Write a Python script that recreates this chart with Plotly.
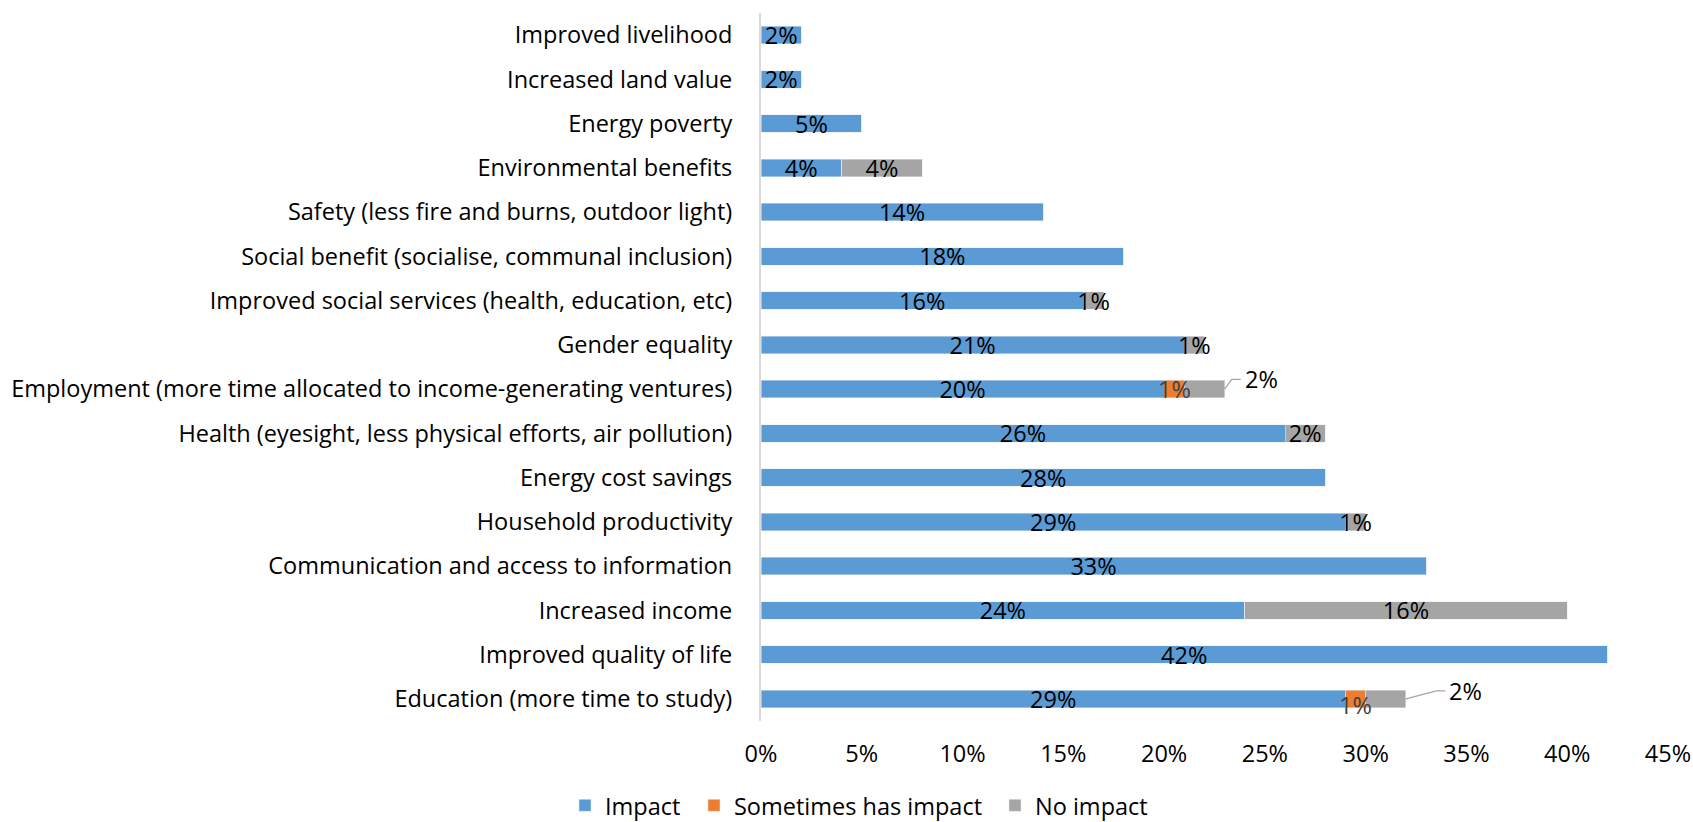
import plotly.graph_objects as go

# Benefit categories, listed top to bottom
categories = [
    "Improved livelihood",
    "Increased land value",
    "Energy poverty",
    "Environmental benefits",
    "Safety (less fire and burns, outdoor light)",
    "Social benefit (socialise, communal inclusion)",
    "Improved social services (health, education, etc)",
    "Gender equality",
    "Employment (more time allocated to income-generating ventures)",
    "Health (eyesight, less physical efforts, air pollution)",
    "Energy cost savings",
    "Household productivity",
    "Communication and access to information",
    "Increased income",
    "Improved quality of life",
    "Education (more time to study)",
]

# Share of respondents (%)
impact = [2, 2, 5, 4, 14, 18, 16, 21, 20, 26, 28, 29, 33, 24, 42, 29]
sometimes = [0, 0, 0, 0, 0, 0, 0, 0, 1, 0, 0, 0, 0, 0, 0, 1]
no_impact = [0, 0, 0, 4, 0, 0, 1, 1, 2, 2, 0, 1, 0, 16, 0, 2]

x_ticks = [0, 5, 10, 15, 20, 25, 30, 35, 40, 45]

FONT = "Open Sans"
FS = 23.5
BLUE, ORANGE, GREY = "#5B9BD5", "#ED7D31", "#A5A5A5"

ypos = list(range(len(categories)))

# Bars with both an orange and a grey segment get their grey label outside
callout = [i for i in ypos if sometimes[i] > 0 and no_impact[i] > 0]


def labels(vals, skip=()):
    return [f"{v}%" if v > 0 and i not in skip else "" for i, v in enumerate(vals)]


fig = go.Figure()
fig.add_trace(go.Bar(
    name="Impact", y=ypos, x=impact, orientation="h",
    marker=dict(color=BLUE), legend="legend",
    text=labels(impact), textposition="inside", insidetextanchor="middle",
    constraintext="none", textfont=dict(family=FONT, size=FS, color="#000000"),
    cliponaxis=False,
))
# Orange segment labels drawn as annotations (the bottom one sits lower)
fig.add_trace(go.Bar(
    name="Sometimes has impact", y=ypos, x=sometimes, orientation="h",
    marker=dict(color=ORANGE), legend="legend2",
    text=[""] * len(ypos), textposition="none",
))
fig.add_trace(go.Bar(
    name="No impact", y=ypos, x=no_impact, orientation="h",
    marker=dict(color=GREY), legend="legend3",
    text=labels(no_impact, callout), textposition="inside", insidetextanchor="middle",
    constraintext="none", textfont=dict(family=FONT, size=FS, color="#000000"),
    cliponaxis=False,
))

last = len(categories) - 1
for i in ypos:
    if sometimes[i] > 0:
        fig.add_annotation(
            x=impact[i] + sometimes[i] / 2, y=i, xref="x", yref="y",
            text=f"{sometimes[i]}%", showarrow=False,
            font=dict(family=FONT, size=FS, color="#404040"),
            yshift=-6 if i == last else 0,
        )

# Leader lines and outside labels for the small grey segments
for i in callout:
    end = impact[i] + sometimes[i] + no_impact[i]
    lift = 0.22 if i != last else 0.18
    bend = end + (0.35 if i != last else 1.5)
    fig.add_trace(go.Scatter(
        x=[end, bend, bend + 0.45], y=[i, i - lift, i - lift],
        mode="lines", line=dict(color="#A5A5A5", width=1.3),
        showlegend=False, hoverinfo="skip",
    ))
    fig.add_annotation(
        x=bend + 0.45, y=i - lift, xref="x", yref="y", xanchor="left",
        text=f"{no_impact[i]}%", showarrow=False, xshift=2,
        font=dict(family=FONT, size=FS, color="#000000"),
    )

# One legend box per series so the entries can be spaced freely
legend_style = dict(
    orientation="h", xanchor="left", yref="container", y=0.02, yanchor="middle",
    font=dict(family=FONT, size=FS, color="#000000"), bgcolor="rgba(0,0,0,0)",
)
fig.update_layout(
    barmode="stack",
    bargap=0.6,
    width=1693, height=822,
    margin=dict(l=761, r=25, t=13, b=101, autoexpand=False),
    paper_bgcolor="white", plot_bgcolor="white",
    font=dict(family=FONT, size=FS, color="#000000"),
    legend=dict(x=-0.2161, **legend_style),
    legend2=dict(x=-0.0739, **legend_style),
    legend3=dict(x=0.258, **legend_style),
    showlegend=True,
)
fig.update_xaxes(
    range=[0, 45], tickvals=x_ticks, ticktext=[f"{t}%" for t in x_ticks],
    showgrid=False, zeroline=False, showline=False, ticks="",
    ticklabelstandoff=16,
    tickfont=dict(family=FONT, size=FS, color="#000000"),
)
fig.update_yaxes(
    range=[len(categories) - 0.5, -0.5],
    tickvals=ypos, ticktext=categories,
    showgrid=False, zeroline=False, showline=True, linecolor="#D9D9D9", linewidth=2,
    ticks="", ticklabelstandoff=22,
    tickfont=dict(family=FONT, size=FS, color="#000000"),
)

fig.write_html("out.html")
